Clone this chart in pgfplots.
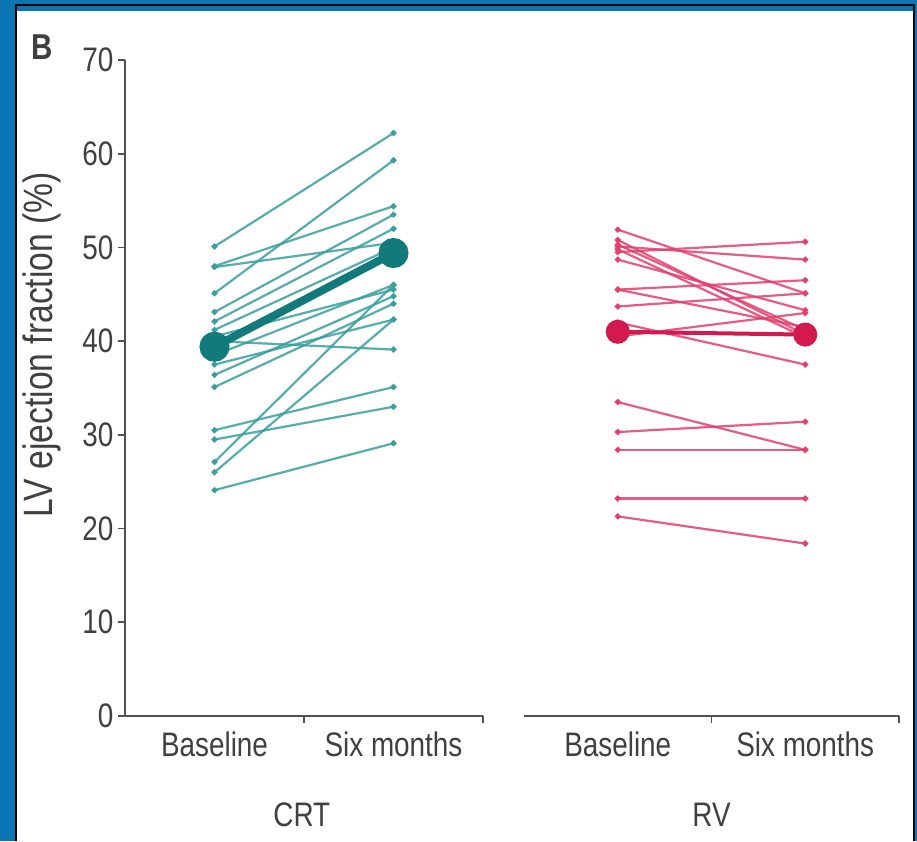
\documentclass[border=0pt]{standalone}
\usepackage{fontspec}
\setmainfont{Liberation Sans}[FakeStretch=0.82]
\usepackage{pgfplots}
\pgfplotsset{compat=1.18}

\definecolor{frameblue}{HTML}{0A76B4}
\definecolor{crt}{HTML}{3A9E9E}
\definecolor{crtdark}{HTML}{127A7A}
\definecolor{rv}{HTML}{E2406E}
\definecolor{rvdark}{HTML}{D21A4E}
\definecolor{axisgray}{HTML}{505050}
\definecolor{txt}{HTML}{404040}

\pgfplotsset{
  panel/.style={
    scale only axis, height=656pt,
    ymin=0, ymax=70, xmin=-0.5, xmax=1.5,
    clip=false,
    axis x line*=bottom,
    axis line style={draw=axisgray, line width=1.8pt, -},
    xtick={0.5,1.5}, xticklabels={},
    major tick length=7pt,
    tick style={draw=axisgray, line width=1.6pt},
    tick align=outside,
    extra x ticks={0,1},
    extra x tick labels={Baseline,Six months},
    extra x tick style={major tick length=0pt,
      xticklabel style={yshift=-12pt}},
    every tick label/.append style={font=\fontsize{34}{38}\selectfont, text=txt},
    every axis label/.append style={font=\fontsize{34}{38}\selectfont, text=txt},
    /pgf/number format/assume math mode=true,
  },
  subj/.style={line width=2.2pt, opacity=0.85, mark=*, mark size=1.8pt},
  crtline/.style={subj, color=crt, mark options={fill=crtdark, draw=none, opacity=1}},
  rvline/.style={subj, color=rv, mark options={fill=rvdark, draw=none, opacity=1}},
}

\begin{document}
\begin{tikzpicture}[x=1pt,y=1pt]
  % frame
  \fill[frameblue] (0,0) rectangle (917,841);
  \fill[white] (17,0) rectangle (913,830);
  \draw[black, line width=2pt] (16,0) -- (16,836) -- (914,836) -- (914,0);
  \node[font=\fontsize{36}{40}\selectfont\bfseries, text=txt] at (42,794) {B};

  % CRT panel
  \begin{axis}[panel, at={(125pt,125pt)}, anchor=south west, width=358pt,
      axis y line*=left, ytick={0,10,...,70},
      yticklabel style={xshift=-1pt},
      ylabel={LV ejection fraction (\%)},
      ylabel style={at={(axis description cs:-0.2318,0.566)}, anchor=center,
        font=\fontsize{41}{44}\selectfont},
      xlabel={CRT},
      xlabel style={at={(axis description cs:0.494,-0.15)}, anchor=center}]
    \addplot[crtline] coordinates {(0,50.1) (1,62.2)};
    \addplot[crtline] coordinates {(0,48.0) (1,54.4)};
    \addplot[crtline] coordinates {(0,47.9) (1,50.5)};
    \addplot[crtline] coordinates {(0,45.1) (1,59.3)};
    \addplot[crtline] coordinates {(0,43.1) (1,53.5)};
    \addplot[crtline] coordinates {(0,42.1) (1,52.0)};
    \addplot[crtline] coordinates {(0,41.2) (1,50.0)};
    \addplot[crtline] coordinates {(0,40.5) (1,45.5)};
    \addplot[crtline] coordinates {(0,38.5) (1,46.0)};
    \addplot[crtline] coordinates {(0,36.4) (1,44.8)};
    \addplot[crtline] coordinates {(0,35.1) (1,44.0)};
    \addplot[crtline] coordinates {(0,40.0) (1,39.1)};
    \addplot[crtline] coordinates {(0,37.5) (1,42.3)};
    \addplot[crtline] coordinates {(0,30.5) (1,35.1)};
    \addplot[crtline] coordinates {(0,29.5) (1,33.0)};
    \addplot[crtline] coordinates {(0,27.1) (1,46.0)};
    \addplot[crtline] coordinates {(0,26.0) (1,42.3)};
    \addplot[crtline] coordinates {(0,24.1) (1,29.1)};
    % group mean
    \addplot[color=crtdark, line width=8pt, mark=*, mark size=11pt,
      mark options={fill=crtdark, draw=none}] coordinates {(0,39.4) (1,49.4)};
  \end{axis}

  % RV panel
  \begin{axis}[panel, at={(524pt,125pt)}, anchor=south west, width=375pt,
      axis y line=none, axis x line*=bottom,
      xlabel={RV},
      xlabel style={at={(axis description cs:0.50,-0.15)}, anchor=center}]
    \addplot[rvline] coordinates {(0,51.9) (1,45.1)};
    \addplot[rvline] coordinates {(0,50.8) (1,40.7)};
    \addplot[rvline] coordinates {(0,50.3) (1,41.2)};
    \addplot[rvline] coordinates {(0,49.8) (1,40.4)};
    \addplot[rvline] coordinates {(0,50.1) (1,48.7)};
    \addplot[rvline] coordinates {(0,49.5) (1,50.6)};
    \addplot[rvline] coordinates {(0,48.7) (1,43.3)};
    \addplot[rvline] coordinates {(0,45.5) (1,46.5)};
    \addplot[rvline] coordinates {(0,45.5) (1,41.5)};
    \addplot[rvline] coordinates {(0,43.7) (1,45.1)};
    \addplot[rvline] coordinates {(0,42.0) (1,37.5)};
    \addplot[rvline] coordinates {(0,40.5) (1,43.0)};
    \addplot[rvline] coordinates {(0,33.5) (1,28.4)};
    \addplot[rvline] coordinates {(0,30.3) (1,31.4)};
    \addplot[rvline] coordinates {(0,28.4) (1,28.4)};
    \addplot[rvline] coordinates {(0,23.2) (1,23.2)};
    \addplot[rvline] coordinates {(0,21.3) (1,18.4)};
    % group mean
    \addplot[color=rvdark, line width=4pt, mark=*, mark size=10pt,
      mark options={fill=rvdark, draw=none}] coordinates {(0,41.0) (1,40.7)};
  \end{axis}
\end{tikzpicture}
\end{document}
